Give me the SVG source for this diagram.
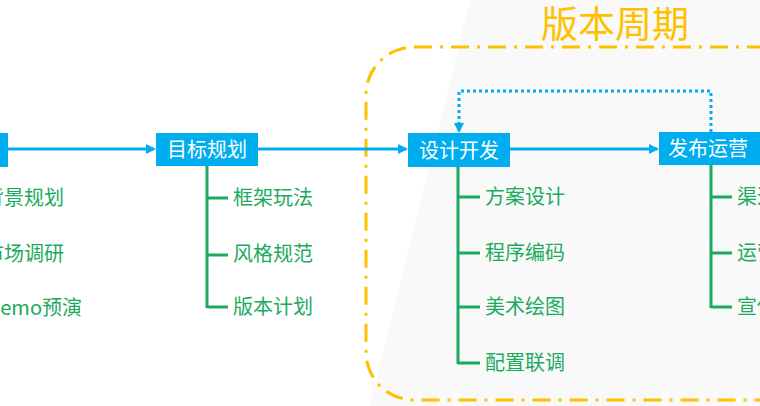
<svg xmlns="http://www.w3.org/2000/svg" width="760" height="406" viewBox="0 0 760 406">
<defs>
<style>
.box{fill:#00AEEF}
.bt{fill:#fff;font-family:"Noto Sans CJK SC","Liberation Sans",sans-serif;font-size:20px}
.lt{fill:#1BAA60;font-family:"Noto Sans CJK SC","Liberation Sans",sans-serif;font-size:20px}
.tree{stroke:#1BAA60;stroke-width:3;fill:none}
.flow{stroke:#00AEEF;stroke-width:3;fill:none}
</style>
<marker id="ar" markerWidth="10" markerHeight="10" refX="8" refY="5" orient="auto" markerUnits="userSpaceOnUse"><path d="M0,0 L10,5 L0,10 Z" fill="#00AEEF"/></marker>
</defs>
<rect width="760" height="406" fill="#fff"/>
<path d="M470,0 L760,0 L760,406 L370,406 Z" fill="#f9f9f9"/>
<g id="cycle">
<rect x="366" y="47" width="460" height="353" rx="48" fill="none" stroke="#FFC000" stroke-width="3" stroke-dasharray="18 8 3 8"/>
<text x="615" y="38" text-anchor="middle" fill="#FFC000" font-family="Noto Sans CJK SC,sans-serif" font-size="37">版本周期</text>
</g>
<g id="connectors">
<line class="flow" x1="8" y1="149" x2="154" y2="149" marker-end="url(#ar)"/>
<line class="flow" x1="258" y1="149" x2="406" y2="149" marker-end="url(#ar)"/>
<line class="flow" x1="510" y1="149" x2="657" y2="149" marker-end="url(#ar)"/>
<path d="M711,132 V91 H459 V131" stroke="#00AEEF" stroke-width="3" fill="none" stroke-dasharray="3 3" marker-end="url(#ar)"/>
<path class="tree" d="M207,166 V308 M207,198 H228 M207,255 H228 M207,307 H228"/>
<path class="tree" d="M458,167 V364 M458,197 H480 M458,253 H480 M458,307 H480 M458,363 H480"/>
<path class="tree" d="M711,165 V308 M711,197 H732 M711,253 H732 M711,307 H732"/>
</g>
<g id="n0"><rect class="box" x="-10" y="133" width="18" height="34"/>
<text class="lt" x="64" y="205" text-anchor="end">背景规划</text>
<text class="lt" x="64" y="261" text-anchor="end">市场调研</text>
<text class="lt" x="82" y="315" text-anchor="end">Demo预演</text></g>
<g id="n1"><rect class="box" x="156" y="133" width="102" height="33"/><text class="bt" x="207" y="157" text-anchor="middle">目标规划</text>
<text class="lt" x="233" y="205">框架玩法</text><text class="lt" x="233" y="261">风格规范</text><text class="lt" x="233" y="314">版本计划</text></g>
<g id="n2"><rect class="box" x="408" y="133" width="102" height="34"/><text class="bt" x="459" y="158" text-anchor="middle">设计开发</text>
<text class="lt" x="485" y="204">方案设计</text><text class="lt" x="485" y="260">程序编码</text><text class="lt" x="485" y="314">美术绘图</text><text class="lt" x="485" y="370">配置联调</text></g>
<g id="n3"><rect class="box" x="659" y="132" width="110" height="33"/><text class="bt" x="668" y="156">发布运营</text>
<text class="lt" x="737" y="204">渠道推广</text><text class="lt" x="737" y="260">运营活动</text><text class="lt" x="737" y="314">宣传推广</text></g>
</svg>
